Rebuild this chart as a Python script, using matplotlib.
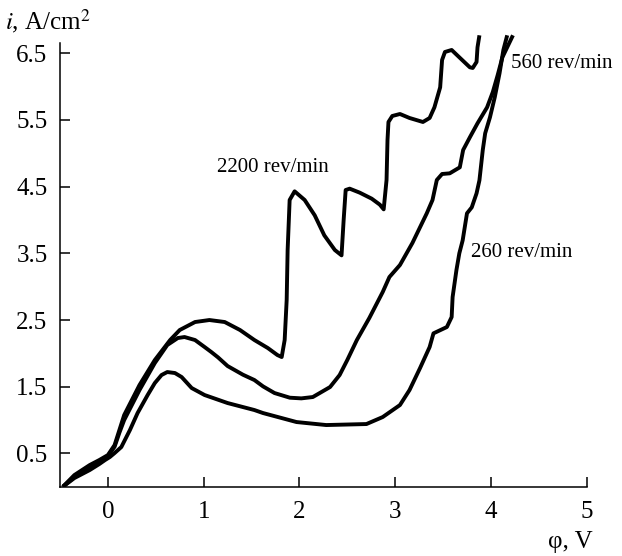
#!/usr/bin/env python3
"""
Anodic polarization curves i(phi) at three electrode rotation speeds.

Draws the three current-density curves in black on a bare L-shaped frame
(inward ticks, serif fonts) and labels each curve with its rotation speed.
Writes out.png.
"""
from __future__ import annotations

import matplotlib
matplotlib.use("Agg")
import matplotlib.pyplot as plt

# ── Curves: potential phi (V) and current density i (A/cm^2) ─────────────────
PHI_2200 = [-0.47, -0.35, -0.19, -0.09, 0.00, 0.07, 0.12, 0.17, 0.33, 0.49,
            0.65, 0.75, 0.91, 1.06, 1.22, 1.38, 1.53, 1.67, 1.77, 1.815,
            1.846, 1.867, 1.877, 1.898, 1.95, 2.055, 2.16, 2.26, 2.37, 2.44,
            2.462, 2.483, 2.525, 2.63, 2.755, 2.84, 2.88, 2.91, 2.92, 2.93,
            2.97, 3.05, 3.15, 3.29, 3.36, 3.41, 3.47, 3.49, 3.52, 3.59,
            3.67, 3.78, 3.81, 3.85, 3.86, 3.88]
I_2200 = [0.00, 0.175, 0.325, 0.40, 0.475, 0.625, 0.85, 1.075, 1.525, 1.90,
          2.20, 2.35, 2.47, 2.50, 2.47, 2.35, 2.20, 2.08, 1.975, 1.945,
          2.20, 2.80, 3.55, 4.30, 4.43, 4.30, 4.07, 3.77, 3.55, 3.47,
          4.00, 4.45, 4.47, 4.41, 4.32, 4.23, 4.16, 4.60, 5.20, 5.47,
          5.56, 5.59, 5.53, 5.47, 5.53, 5.69, 5.99, 6.40, 6.52, 6.55,
          6.44, 6.29, 6.28, 6.37, 6.59, 6.77]

PHI_560 = [-0.47, -0.35, -0.19, -0.09, 0.00, 0.07, 0.12, 0.17, 0.33, 0.49,
           0.62, 0.73, 0.80, 0.91, 1.01, 1.08, 1.15, 1.25, 1.41, 1.53, 1.62,
           1.74, 1.90, 2.02, 2.14, 2.32, 2.42, 2.50, 2.60, 2.73, 2.87, 2.94,
           3.05, 3.18, 3.33, 3.39, 3.435, 3.49, 3.57, 3.675, 3.71, 3.78,
           3.86, 3.96, 4.02, 4.07, 4.12, 4.18, 4.23]
I_560 = [0.00, 0.145, 0.295, 0.37, 0.46, 0.60, 0.81, 1.00, 1.45, 1.855,
         2.125, 2.23, 2.245, 2.20, 2.095, 2.02, 1.94, 1.81, 1.68, 1.60, 1.505,
         1.405, 1.335, 1.325, 1.345, 1.495, 1.675, 1.90, 2.20, 2.53, 2.92, 3.145,
         3.325, 3.655, 4.10, 4.30, 4.60, 4.69, 4.70, 4.79, 5.05, 5.24,
         5.45, 5.69, 5.92, 6.17, 6.44, 6.62, 6.77]

PHI_260 = [-0.47, -0.35, -0.19, -0.09, -0.03, 0.02, 0.07, 0.14, 0.23, 0.31,
           0.415, 0.49, 0.56, 0.62, 0.70, 0.77, 0.875, 1.01, 1.25, 1.53,
           1.62, 1.97, 2.28, 2.70, 2.87, 3.05, 3.15, 3.26, 3.36, 3.40,
           3.54, 3.59, 3.60, 3.64, 3.67, 3.705, 3.75, 3.80, 3.85, 3.88,
           3.915, 3.94, 3.99, 4.04, 4.09, 4.13, 4.17]
I_260 = [0.00, 0.13, 0.25, 0.34, 0.40, 0.445, 0.505, 0.595, 0.85, 1.105,
         1.375, 1.555, 1.675, 1.72, 1.705, 1.645, 1.48, 1.375, 1.255, 1.15,
         1.105, 0.97, 0.925, 0.94, 1.045, 1.225, 1.45, 1.78, 2.095, 2.30,
         2.395, 2.545, 2.845, 3.25, 3.50, 3.695, 4.10, 4.19, 4.40, 4.595,
         5.05, 5.30, 5.54, 5.84, 6.20, 6.55, 6.77]

CURVE_LABELS = ["2200 rev/min", "560 rev/min", "260 rev/min"]
LABEL_POS = [(1.14, 4.78), (4.21, 6.35), (3.79, 3.52)]

X_TICKS = [0, 1, 2, 3, 4, 5]
Y_TICKS = [0.5, 1.5, 2.5, 3.5, 4.5, 5.5, 6.5]

SERIF = ["Liberation Serif", "DejaVu Serif"]


def main() -> None:
    plt.rcParams["font.family"] = SERIF
    plt.rcParams["mathtext.fontset"] = "stix"

    fig = plt.figure(figsize=(6.22, 5.56), dpi=100)
    ax = fig.add_axes([0.0965, 0.1246, 0.8467, 0.8155])

    for phi, cur in ((PHI_2200, I_2200), (PHI_560, I_560), (PHI_260, I_260)):
        ax.plot(phi, cur, color="black", lw=2.8,
                solid_joinstyle="round", solid_capstyle="butt")

    for text, (x, y) in zip(CURVE_LABELS, LABEL_POS):
        ax.text(x, y, text, fontsize=15, ha="left", va="center")

    ax.set_xlim(-0.5, 5.0)
    ax.set_ylim(0, 6.8)
    ax.set_xticks(X_TICKS)
    ax.set_yticks(Y_TICKS)
    ax.set_yticklabels([f"{v:.1f}" for v in Y_TICKS])

    ax.spines["top"].set_visible(False)
    ax.spines["right"].set_visible(False)
    ax.spines["left"].set_bounds(0, 6.65)
    for side in ("left", "bottom"):
        ax.spines[side].set_linewidth(1.1)
    ax.tick_params(direction="in", length=7, width=1.1, labelsize=18)
    ax.tick_params(axis="x", pad=10)
    ax.tick_params(axis="y", pad=9)

    # axis titles sit outside the frame: units at top left, phi at bottom right
    fig.text(0.008, 0.963, "$i$, A/cm$^2$", fontsize=18, ha="left", va="center")
    fig.text(0.953, 0.025, "φ, V", fontsize=18, ha="right", va="center")

    fig.savefig("out.png", dpi=100)


if __name__ == "__main__":
    main()
